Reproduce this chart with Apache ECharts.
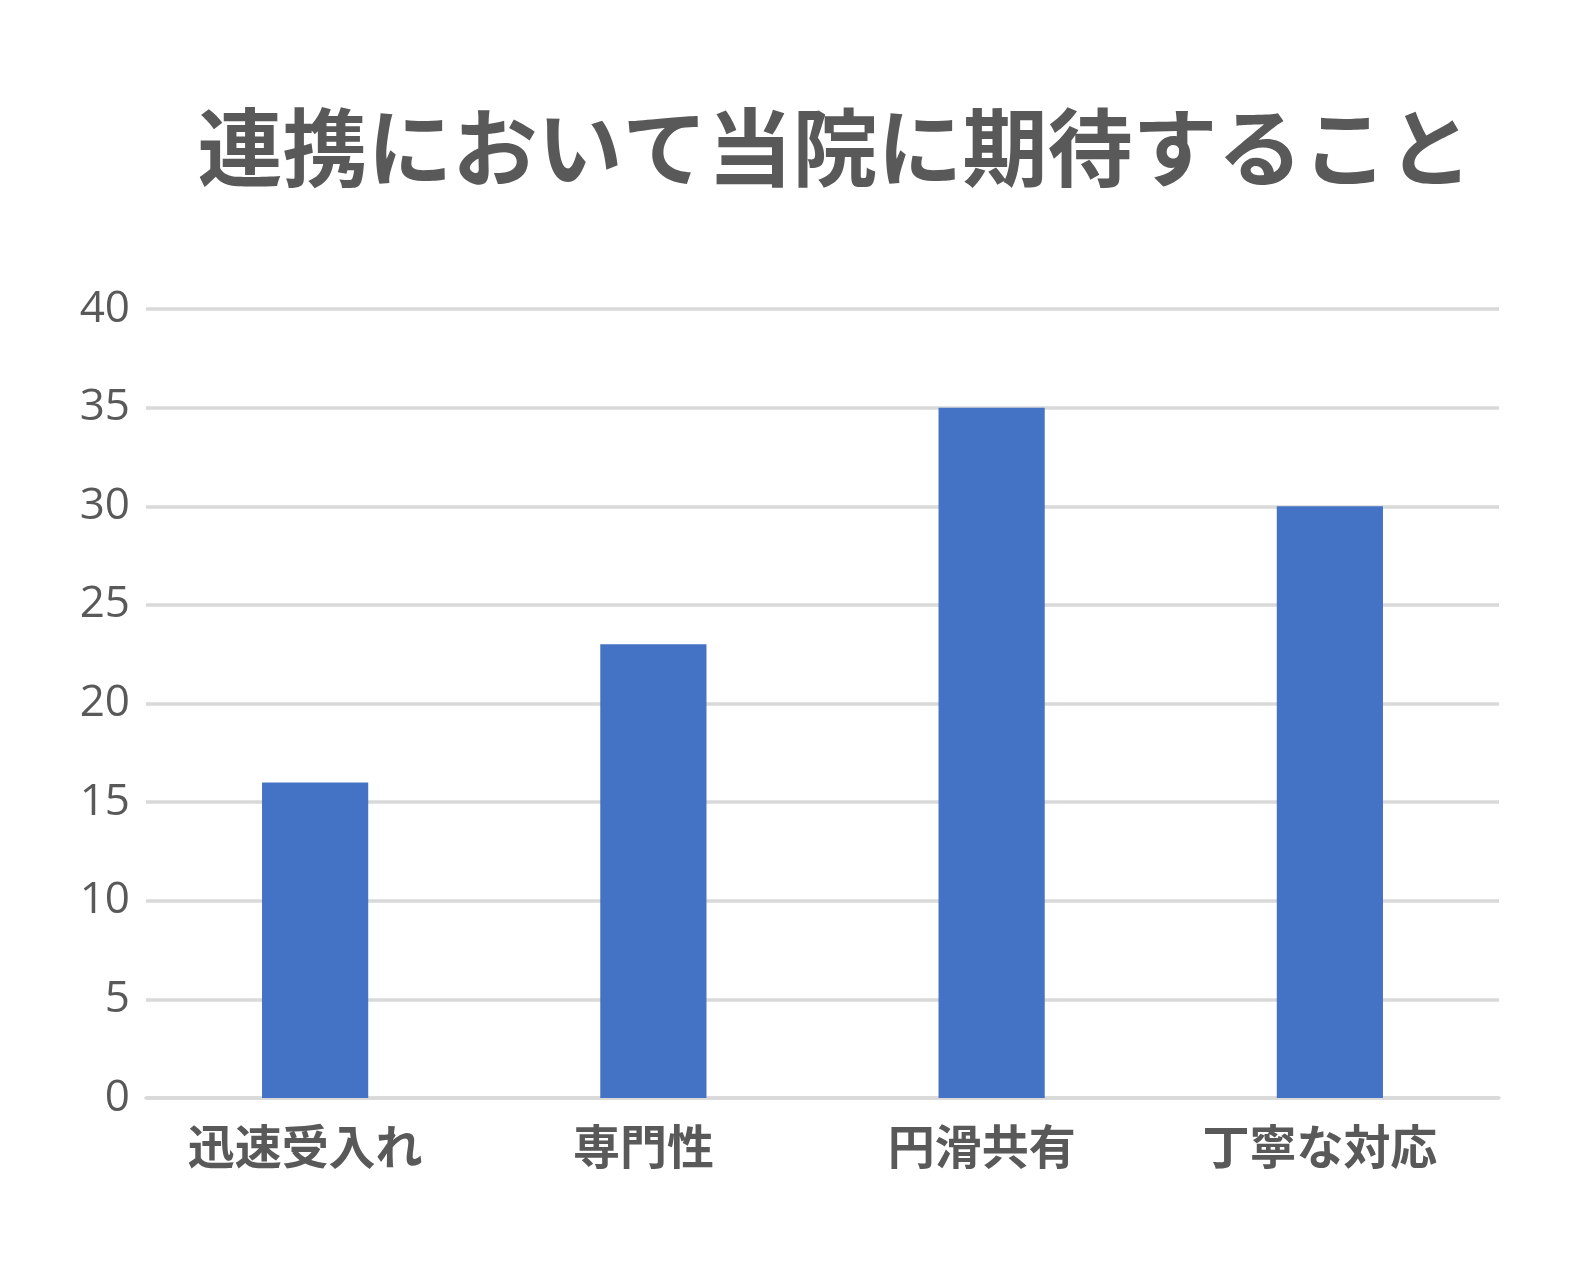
<!DOCTYPE html>
<html>
<head>
<meta charset="utf-8">
<script src="https://cdn.jsdelivr.net/npm/echarts@6/dist/echarts.min.js"></script>
<style>
html,body{margin:0;padding:0;background:#fff;}
#chart{width:1578px;height:1265px;}
</style>
</head>
<body>
<div id="chart"></div>
<script>
const titleText = '連携において当院に期待すること';
const categories = ['迅速受入れ', '専門性', '円滑共有', '丁寧な対応'];
const values = [16, 23, 35, 30];
const yMin = 0, yMax = 40, yInterval = 5;

const chart = echarts.init(document.getElementById('chart'), null, {renderer: 'canvas'});
chart.setOption({
  backgroundColor: '#ffffff',
  animation: false,
  title: {
    text: titleText,
    left: 830,
    textAlign: 'center',
    top: 100,
    textStyle: {
      fontFamily: '"Noto Sans CJK JP", sans-serif',
      fontWeight: 'bold',
      fontSize: 85,
      color: '#595959'
    }
  },
  grid: {left: 146, right: 79, top: 309, bottom: 167, containLabel: false},
  xAxis: {
    type: 'category',
    data: categories,
    axisLine: {show: true, lineStyle: {color: '#d9d9d9', width: 3.5}},
    axisTick: {show: false},
    axisLabel: {
      margin: 25,
      padding: [0, 20, 0, 0],
      fontFamily: '"Noto Sans CJK JP", sans-serif',
      fontWeight: 'bold',
      fontSize: 47,
      color: '#595959'
    }
  },
  yAxis: {
    type: 'value',
    min: yMin, max: yMax, interval: yInterval,
    axisLine: {show: false},
    axisTick: {show: false},
    splitLine: {lineStyle: {color: '#d9d9d9', width: 3.5}},
    axisLabel: {
      margin: 16,
      fontFamily: '"Open Sans", "Noto Sans", sans-serif',
      fontSize: 44,
      color: '#595959'
    }
  },
  series: [{
    type: 'bar',
    data: values,
    barWidth: '31.4%',
    itemStyle: {color: '#4472c4'}
  }]
});
</script>
</body>
</html>
